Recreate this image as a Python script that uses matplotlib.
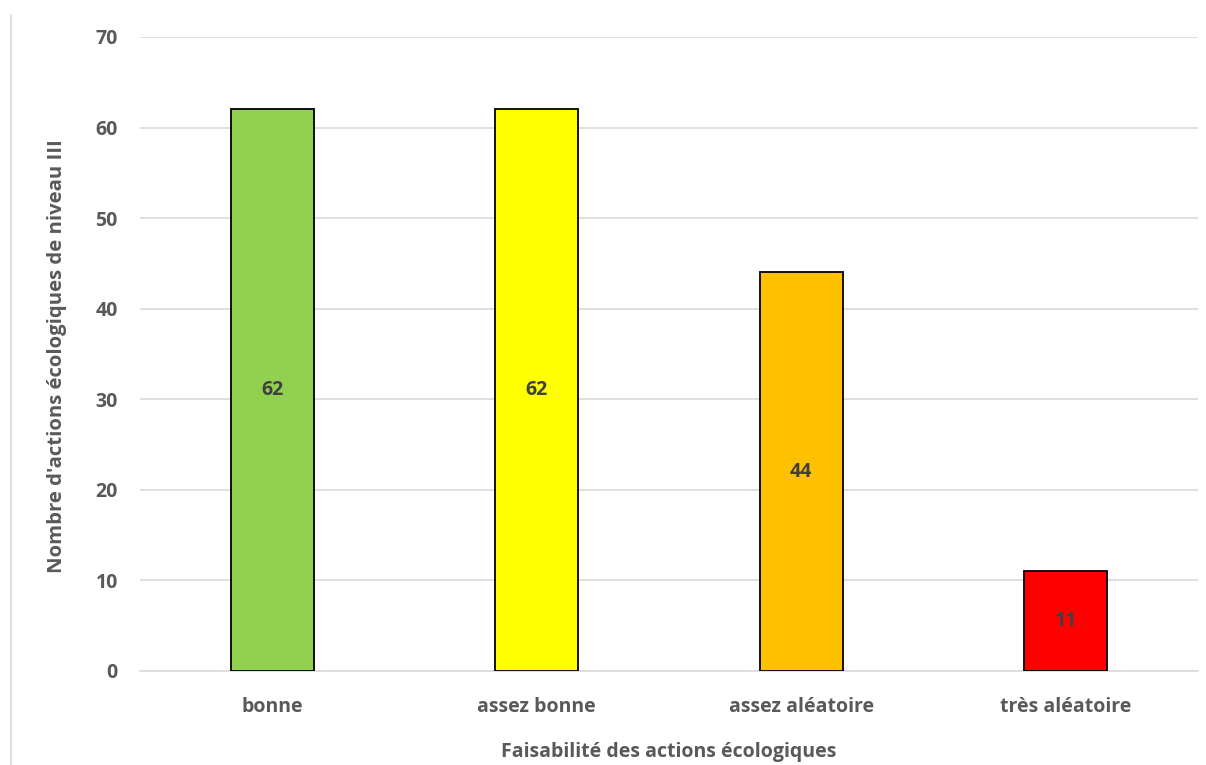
import matplotlib.pyplot as plt
from matplotlib.lines import Line2D

# Feasibility categories and number of level III actions
categories = ['bonne', 'assez bonne', 'assez aléatoire', 'très aléatoire']
counts = [62, 62, 44, 11]
colors = ['#92D050', '#FFFF00', '#FFC000', '#FF0000']

plt.rcParams['font.family'] = ['Open Sans', 'DejaVu Sans']
grey = '#595959'
fs = 14

fig = plt.figure(figsize=(12.06, 7.65), dpi=100)
ax = fig.add_axes([140 / 1206, 1 - 671 / 765, 1058 / 1206, 634 / 765])

x = range(len(categories))
bars = ax.bar(x, counts, width=0.315, color=colors, edgecolor='black', linewidth=1.3, zorder=3)

# value labels in the middle of each bar
for rect, v in zip(bars, counts):
    ax.text(rect.get_x() + rect.get_width() / 2, v / 2, str(v), ha='center', va='center',
            fontsize=fs, fontweight='bold', color='#404040', zorder=4)

ax.set_xlim(-0.5, 3.5)
ax.set_ylim(0, 70)
ax.set_yticks(range(0, 71, 10))
ax.set_xticks(list(x))
ax.set_xticklabels(categories)
ax.yaxis.grid(True, color='#D9D9D9', linewidth=1.2, zorder=0)
ax.tick_params(length=0, labelsize=fs, labelcolor=grey)
ax.tick_params(axis='y', pad=16)
ax.tick_params(axis='x', pad=19)
for lab in ax.get_xticklabels() + ax.get_yticklabels():
    lab.set_fontweight('bold')
for s in ['top', 'right', 'left']:
    ax.spines[s].set_visible(False)
ax.spines['bottom'].set_color('#D9D9D9')
ax.spines['bottom'].set_linewidth(1.2)

fig.text(57 / 1206, 1 - 356 / 765, "Nombre d'actions écologiques de niveau III", rotation=90,
         ha='center', va='center', fontsize=14.6, fontweight='bold', color=grey)
fig.text(669 / 1206, 1 - 752 / 765, 'Faisabilité des actions écologiques',
         ha='center', va='center', fontsize=fs, fontweight='bold', color=grey)

# thin frame line on the left edge
fig.add_artist(Line2D([11 / 1206, 11 / 1206], [0, 1 - 15 / 765], transform=fig.transFigure,
                      color='#D9D9D9', linewidth=1.2))

fig.savefig('out.png', dpi=100)
